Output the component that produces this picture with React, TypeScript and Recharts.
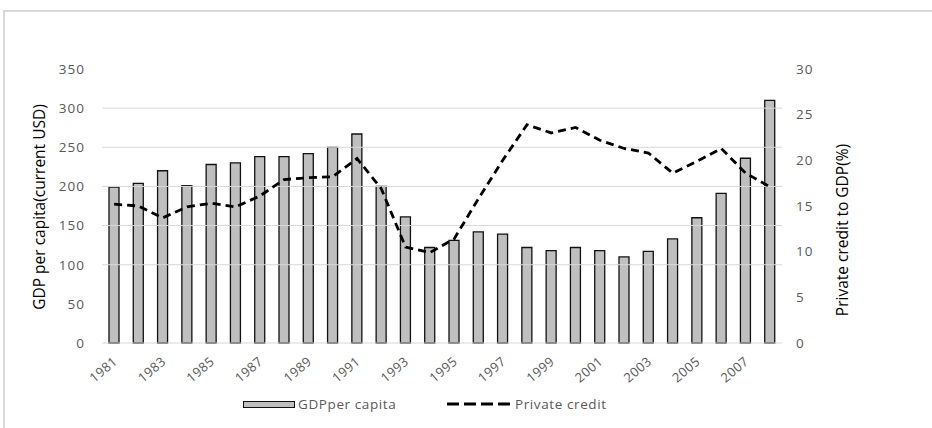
import {
  Bar,
  ComposedChart,
  Line,
  ReferenceLine,
  XAxis,
  YAxis,
} from "recharts";

const years = [
  "1981", "1982", "1983", "1984", "1985", "1986", "1987", "1988", "1989", "1990",
  "1991", "1992", "1993", "1994", "1995", "1996", "1997", "1998", "1999", "2000",
  "2001", "2002", "2003", "2004", "2005", "2006", "2007", "2008",
];
const gdpPerCapita = [
  199, 204, 220, 201, 228, 230, 238, 238, 242, 250,
  267, 200, 161, 122, 131, 142, 139, 122, 118, 122,
  118, 110, 117, 133, 160, 191, 236, 310,
];
const privateCredit = [
  15.2, 15.0, 13.7, 14.9, 15.3, 14.9, 16.1, 17.9, 18.1, 18.2,
  20.2, 16.9, 10.5, 9.9, 11.4, 15.8, 20.0, 23.9, 23.0, 23.6,
  22.2, 21.3, 20.8, 18.6, 19.9, 21.3, 18.6, 17.1,
];
const leftTicks = [0, 50, 100, 150, 200, 250, 300, 350];
const rightTicks = [0, 5, 10, 15, 20, 25, 30];
const gridValues = [100, 150, 200, 250, 300];

const data = years.map((year, i) => ({
  year,
  gdp: gdpPerCapita[i],
  credit: privateCredit[i],
}));

const FONT = "'Open Sans', sans-serif";
const GREY = "#595959";

const YearTick = (props: any) => {
  const { x, y, payload } = props;
  const ax = x + 4;
  const ay = y + 12;
  return (
    <text
      x={ax}
      y={ay}
      textAnchor="end"
      fill={GREY}
      fontSize={13}
      letterSpacing={0.4}
      fontFamily={FONT}
      transform={`rotate(-40, ${ax}, ${ay})`}
    >
      {payload.value}
    </text>
  );
};

const App = () => (
  <div style={{ position: "absolute", left: 0, top: 0, width: 932, height: 428, overflow: "hidden", background: "#fff" }}>
    <div
      style={{
        position: "absolute",
        left: 3,
        top: 10,
        width: 960,
        height: 460,
        borderTop: "2px solid #d9d9d9",
        borderLeft: "2px solid #d9d9d9",
      }}
    />
    <ComposedChart
      width={932}
      height={428}
      data={data}
      margin={{ top: 69, right: 90, bottom: 55, left: 42 }}
      barCategoryGap={0}
      style={{ position: "absolute", left: 0, top: 0 }}
    >
      {gridValues.map((v) => (
        <ReferenceLine key={v} yAxisId="left" y={v} stroke="#d9d9d9" strokeWidth={1} />
      ))}
      <XAxis
        dataKey="year"
        interval={1}
        tickLine={false}
        axisLine={{ stroke: "#d9d9d9", strokeWidth: 1 }}
        tick={<YearTick />}
        height={30}
      />
      <YAxis
        yAxisId="left"
        domain={[0, 350]}
        ticks={leftTicks}
        width={60}
        axisLine={false}
        tickLine={false}
        tickMargin={11}
        tick={{ fill: GREY, fontSize: 13.5, fontFamily: FONT, letterSpacing: 1 }}
        label={{
          content: () => (
            <text
              x={45}
              y={207}
              textAnchor="middle"
              fill="#000"
              fontSize={15.5}
              fontFamily={FONT}
              transform="rotate(-90, 45, 207)"
            >
              GDP per capita(current USD)
            </text>
          ),
        }}
      />
      <YAxis
        yAxisId="right"
        orientation="right"
        domain={[0, 30]}
        ticks={rightTicks}
        width={60}
        axisLine={false}
        tickLine={false}
        tickMargin={8}
        tick={{ fill: GREY, fontSize: 13.5, fontFamily: FONT, letterSpacing: 1, textAnchor: "start" }}
        label={{
          content: () => (
            <text
              x={848}
              y={230}
              textAnchor="middle"
              fill="#000"
              fontSize={15.5}
              fontFamily={FONT}
              transform="rotate(-90, 848, 230)"
            >
              Private credit to GDP(%)
            </text>
          ),
        }}
      />
      <Bar
        yAxisId="left"
        dataKey="gdp"
        name="GDPper capita"
        barSize={10}
        fill="#bfbfbf"
        stroke="#111"
        strokeWidth={1.3}
        isAnimationActive={false}
      />
      <Line
        yAxisId="right"
        dataKey="credit"
        name="Private credit"
        type="linear"
        stroke="#000"
        strokeWidth={2.8}
        strokeDasharray="8 5"
        dot={false}
        isAnimationActive={false}
      />
    </ComposedChart>
    <div
      style={{
        position: "absolute",
        top: 395,
        left: 243,
        display: "flex",
        alignItems: "center",
        fontFamily: FONT,
        fontSize: 13.5,
        letterSpacing: 0.6,
        color: GREY,
      }}
    >
      <span style={{ display: "inline-block", width: 50, height: 5, background: "#bfbfbf", border: "1px solid #111" }} />
      <span style={{ marginLeft: 3 }}>GDPper capita</span>
    </div>
    <div
      style={{
        position: "absolute",
        top: 395,
        left: 447,
        display: "flex",
        alignItems: "center",
        fontFamily: FONT,
        fontSize: 13.5,
        letterSpacing: 0.6,
        color: GREY,
      }}
    >
      <svg width={66} height={8}>
        <line x1={0} y1={4} x2={66} y2={4} stroke="#000" strokeWidth={3} strokeDasharray="12 5" />
      </svg>
      <span style={{ marginLeft: 2 }}>Private credit</span>
    </div>
  </div>
);

export default App;
